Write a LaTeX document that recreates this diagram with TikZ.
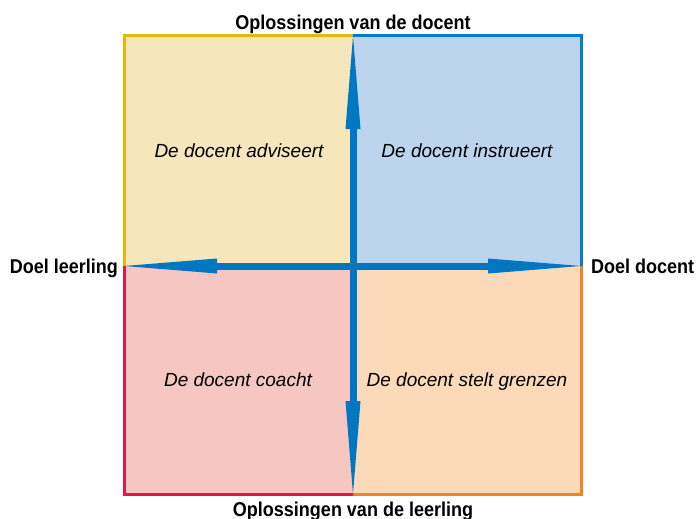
\documentclass[tikz,border=0pt]{standalone}
\usepackage{fontspec}
\setmainfont{Liberation Sans}
\newfontfamily\headfont[FakeStretch=0.9]{Liberation Sans}
\usetikzlibrary{arrows.meta}

\definecolor{tlfill}{HTML}{F5E6BC}
\definecolor{tlline}{HTML}{E6B70A}
\definecolor{trfill}{HTML}{BDD4EE}
\definecolor{trline}{HTML}{0A7BC8}
\definecolor{blfill}{HTML}{F6C6C3}
\definecolor{blline}{HTML}{E2164C}
\definecolor{brfill}{HTML}{FCDAB9}
\definecolor{brline}{HTML}{F5821F}
\definecolor{axisblue}{HTML}{0077C0}

\tikzset{
  quad/.style={line width=3pt},
  axis/.style={draw=axisblue, line width=7pt,
    -{Triangle[length=93pt, width=15pt, line width=0pt]}},
  title/.style={font=\headfont\fontsize{20}{22}\selectfont\bfseries, inner sep=0pt, anchor=base},
  quadlabel/.style={font=\fontsize{19}{22}\selectfont\itshape, inner sep=0pt, anchor=base},
}

\begin{document}
\begin{tikzpicture}[x=1pt, y=-1pt]
  \useasboundingbox (0,0) rectangle (696,519);

  % the four quadrants
  \filldraw[quad, fill=tlfill, draw=tlline] (124,266) -- (124,36) -- (353,36);
  \filldraw[quad, fill=trfill, draw=trline] (353,36) -- (581,36) -- (581,266);
  \filldraw[quad, fill=blfill, draw=blline] (124,266) -- (124,494) -- (353,494);
  \filldraw[quad, fill=brfill, draw=brline] (353,494) -- (581,494) -- (581,266);
  \fill[tlfill] (125.5,37.5) rectangle (353,266);
  \fill[trfill] (353,37.5) rectangle (579.5,266);
  \fill[blfill] (125.5,266) rectangle (353,492.5);
  \fill[brfill] (353,266) rectangle (579.5,492.5);

  % axes meeting in the middle
  \coordinate (c) at (353,266);
  \coordinate (l) at (124,266);
  \coordinate (r) at (581,266);
  \coordinate (t) at (353,36);
  \coordinate (b) at (353,494);
  \draw[axis] (c) -- (l);
  \draw[axis] (c) -- (r);
  \draw[axis] (c) -- (t);
  \draw[axis] (c) -- (b);

  % axis labels
  \node[title] (top) at (353,29.5) {Oplossingen van de docent};
  \node[title] (bottom) at (353,516.5) {Oplossingen van de leerling};
  \node[title, anchor=base east] (left) at (118,273) {Doel leerling};
  \node[title, anchor=base west] (right) at (591,273) {Doel docent};

  % quadrant labels
  \node[quadlabel] (tl) at (239,157) {De docent adviseert};
  \node[quadlabel] (tr) at (467,157) {De docent instrueert};
  \node[quadlabel] (bl) at (238,386) {De docent coacht};
  \node[quadlabel] (br) at (467,386) {De docent stelt grenzen};
\end{tikzpicture}
\end{document}
